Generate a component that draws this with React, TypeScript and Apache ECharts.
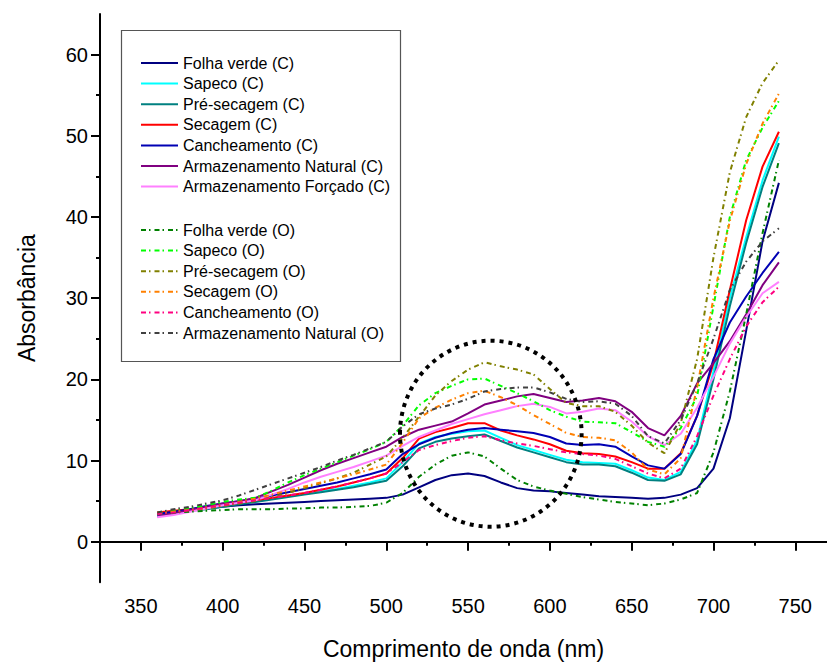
import React, { useEffect, useRef } from "react";
import * as echarts from "echarts";

const wavelengths = [360, 370, 380, 390, 400, 410, 420, 430, 440, 450, 460, 470, 480, 490, 500, 510, 520, 530, 540, 550, 560, 570, 580, 590, 600, 610, 620, 630, 640, 650, 660, 670, 680, 690, 700, 710, 720, 730, 740];

const folhaVerdeC = [3.3, 3.6, 3.9, 4.1, 4.3, 4.5, 4.6, 4.7, 4.8, 4.9, 5.0, 5.1, 5.2, 5.3, 5.4, 5.8, 6.7, 7.6, 8.2, 8.4, 8.1, 7.3, 6.6, 6.3, 6.2, 6.0, 5.8, 5.6, 5.5, 5.4, 5.3, 5.4, 5.8, 6.6, 9.0, 15.2, 26.0, 37.0, 44.2];
const sapecoC = [3.2, 3.5, 3.8, 4.1, 4.4, 4.7, 5.0, 5.3, 5.6, 5.9, 6.2, 6.5, 6.9, 7.3, 7.8, 9.8, 12.1, 12.9, 13.3, 13.6, 13.7, 12.8, 11.9, 11.3, 10.7, 10.1, 9.8, 9.7, 9.6, 8.8, 7.9, 7.6, 8.6, 12.5, 21.0, 30.0, 37.5, 44.5, 49.9];
const preSecagemC = [3.3, 3.5, 3.8, 4.0, 4.3, 4.6, 4.9, 5.2, 5.5, 5.8, 6.1, 6.4, 6.7, 7.1, 7.5, 9.3, 11.5, 12.3, 12.7, 13.0, 13.2, 12.4, 11.6, 11.0, 10.4, 9.8, 9.5, 9.5, 9.3, 8.5, 7.6, 7.5, 8.3, 12.0, 20.0, 29.0, 36.8, 43.7, 49.1];
const secagemC = [3.6, 3.8, 4.0, 4.2, 4.5, 4.8, 5.1, 5.4, 5.7, 6.0, 6.4, 6.8, 7.3, 7.8, 8.4, 10.3, 12.7, 13.5, 14.0, 14.6, 14.6, 13.7, 13.1, 12.6, 12.0, 11.2, 10.9, 10.8, 10.5, 9.8, 9.0, 9.0, 10.9, 15.5, 22.0, 31.0, 39.6, 46.2, 50.5];
const cancheamentoC = [3.4, 3.7, 4.0, 4.4, 4.7, 5.0, 5.3, 5.7, 6.1, 6.5, 6.9, 7.3, 7.8, 8.3, 8.9, 10.8, 12.0, 12.8, 13.4, 13.8, 14.0, 13.8, 13.6, 13.4, 12.9, 12.1, 11.9, 12.0, 11.7, 10.5, 9.4, 9.0, 10.8, 15.5, 22.5, 27.0, 30.2, 33.1, 35.7];
const armNaturalC = [3.1, 3.5, 3.9, 4.3, 4.7, 5.0, 5.4, 6.2, 7.0, 7.9, 8.8, 9.6, 10.3, 11.0, 11.7, 12.9, 13.8, 14.3, 14.8, 15.8, 16.9, 17.4, 17.9, 18.2, 17.7, 17.2, 17.4, 17.7, 17.3, 16.0, 14.0, 13.1, 15.5, 19.5, 22.0, 24.7, 28.0, 31.6, 34.4];
const armForcadoC = [3.0, 3.3, 3.7, 4.1, 4.5, 4.8, 5.1, 5.8, 6.5, 7.3, 8.0, 8.6, 9.2, 9.9, 10.6, 11.8, 12.9, 13.7, 14.5, 15.1, 15.7, 16.2, 16.7, 17.0, 16.6, 15.8, 16.0, 16.4, 16.2, 14.8, 13.0, 11.9, 13.3, 16.5, 20.3, 24.4, 27.7, 30.6, 32.0];

const folhaVerdeO = [3.4, 3.6, 3.7, 3.8, 3.9, 4.0, 4.0, 4.0, 4.1, 4.1, 4.2, 4.2, 4.3, 4.4, 4.8, 6.0, 8.0, 9.5, 10.6, 11.0, 10.5, 9.0, 7.6, 6.8, 6.3, 5.9, 5.5, 5.2, 4.9, 4.7, 4.5, 4.7, 5.2, 6.0, 11.0, 18.5, 28.0, 38.0, 47.0];
const sapecoO = [3.5, 3.8, 4.1, 4.5, 4.9, 5.2, 5.4, 6.3, 7.3, 8.2, 9.0, 9.8, 10.6, 11.4, 12.3, 14.3, 16.8, 18.3, 19.2, 20.0, 20.1, 19.2, 18.3, 17.3, 16.2, 15.4, 14.8, 14.7, 14.6, 13.5, 12.3, 11.7, 14.0, 17.9, 29.0, 40.0, 47.0, 51.0, 54.3];
const preSecagemO = [3.5, 3.7, 3.9, 4.1, 4.4, 4.7, 5.0, 5.5, 6.0, 6.6, 7.2, 7.8, 8.5, 9.5, 10.5, 12.8, 15.4, 18.0, 19.8, 21.2, 22.1, 21.6, 21.2, 20.6, 18.8, 17.1, 16.7, 16.7, 16.0, 14.3, 12.2, 10.9, 14.6, 22.5, 35.0, 45.5, 52.3, 56.5, 59.3];
const secagemO = [3.6, 3.7, 3.9, 4.2, 4.5, 4.9, 5.3, 5.8, 6.3, 6.8, 7.3, 7.8, 8.3, 8.9, 9.5, 12.2, 15.2, 16.5, 17.5, 18.3, 18.6, 17.8, 16.8, 15.6, 14.5, 13.4, 12.9, 12.8, 12.5, 11.0, 8.9, 8.3, 10.3, 19.0, 30.0, 39.5, 46.5, 51.5, 55.2];
const cancheamentoO = [3.4, 3.6, 3.9, 4.2, 4.5, 4.8, 5.1, 5.4, 5.7, 6.0, 6.4, 6.8, 7.3, 7.8, 8.4, 9.8, 11.3, 11.9, 12.4, 12.8, 13.0, 12.5, 12.1, 11.8, 11.4, 11.0, 10.8, 10.6, 10.2, 9.3, 8.4, 7.8, 9.0, 13.0, 18.0, 22.5, 26.5, 29.5, 31.4];
const armNaturalO = [3.6, 4.0, 4.3, 4.7, 5.1, 5.7, 6.4, 7.1, 7.8, 8.5, 9.2, 10.0, 10.7, 11.5, 12.3, 14.2, 15.7, 16.4, 16.9, 17.6, 18.5, 18.8, 19.0, 19.0, 18.4, 17.6, 17.2, 17.3, 17.0, 15.5, 13.0, 12.1, 15.0, 19.5, 25.0, 31.0, 34.5, 37.0, 38.6];

const xTickLabels = [350, 400, 450, 500, 550, 600, 650, 700, 750];
const xMinorTicks = [325, 375, 425, 475, 525, 575, 625, 675, 725];
const yTickLabels = [0, 10, 20, 30, 40, 50, 60];
const yMinorTicks = [5, 15, 25, 35, 45, 55];

const seriesC = [
  { name: "Folha verde (C)", values: folhaVerdeC, color: "#000080" },
  { name: "Sapeco (C)", values: sapecoC, color: "#00FFFF" },
  { name: "Pré-secagem (C)", values: preSecagemC, color: "#008080" },
  { name: "Secagem (C)", values: secagemC, color: "#FF0000" },
  { name: "Cancheamento (C)", values: cancheamentoC, color: "#0000B4" },
  { name: "Armazenamento Natural (C)", values: armNaturalC, color: "#800080" },
  { name: "Armazenamento Forçado (C)", values: armForcadoC, color: "#FF80FF" },
];
const seriesO = [
  { name: "Folha verde (O)", values: folhaVerdeO, color: "#008000" },
  { name: "Sapeco (O)", values: sapecoO, color: "#00FF00" },
  { name: "Pré-secagem (O)", values: preSecagemO, color: "#808000" },
  { name: "Secagem (O)", values: secagemO, color: "#FF8000" },
  { name: "Cancheamento (O)", values: cancheamentoO, color: "#FF0080" },
  { name: "Armazenamento Natural (O)", values: armNaturalO, color: "#404040" },
];

const FONT = "'Liberation Sans', Arial, sans-serif";

export default function App() {
  const ref = useRef<HTMLDivElement>(null);
  useEffect(() => {
    if (!ref.current) return;
    const chart = echarts.init(ref.current, null, { renderer: "svg" });
    const mk = (s: any, dashed: boolean) => ({
      name: s.name,
      type: "line",
      xAxisIndex: 0,
      yAxisIndex: 0,
      symbol: "none",
      data: wavelengths.map((w, i) => [w, s.values[i]]),
      lineStyle: {
        color: s.color,
        width: 2,
        type: dashed ? [5, 3, 1.5, 4] : "solid",
      },
      itemStyle: { color: s.color },
      z: dashed ? 3 : 2,
    });
    const axisCommon = {
      type: "value",
      splitLine: { show: false },
    };
    const legendCommon = {
      orient: "vertical",
      left: 135,
      padding: 5,
      itemWidth: 37,
      itemHeight: 14,
      itemGap: 4.6,
      selectedMode: false,
      itemStyle: { opacity: 0 },
      textStyle: { fontSize: 16, color: "#000", fontFamily: FONT, lineHeight: 16 },
    };
    chart.setOption({
      animation: false,
      textStyle: { fontFamily: FONT },
      grid: { left: 100, top: 14, right: 0, bottom: 82.7, containLabel: false, outerBoundsMode: "none" },
      xAxis: [
        {
          ...axisCommon,
          min: 325,
          max: 769.4,
          axisLine: { lineStyle: { color: "#000", width: 2 } },
          axisTick: { customValues: xTickLabels, length: 9, lineStyle: { color: "#000", width: 2 } },
          axisLabel: { customValues: xTickLabels, fontSize: 20, color: "#000", margin: 14, fontFamily: FONT },
          name: "Comprimento de onda (nm)",
          nameLocation: "middle",
          nameGap: 55,
          nameTextStyle: { fontSize: 23, color: "#000", fontFamily: FONT },
        },
        {
          ...axisCommon,
          min: 325,
          max: 769.4,
          position: "bottom",
          axisLine: { show: false },
          axisTick: { customValues: xMinorTicks, length: 4, lineStyle: { color: "#000", width: 2 } },
          axisLabel: { show: false },
        },
      ],
      yAxis: [
        {
          ...axisCommon,
          min: -5,
          max: 65,
          axisLine: { show: true, lineStyle: { color: "#000", width: 2 } },
          axisTick: { show: true, customValues: yTickLabels, length: 9, lineStyle: { color: "#000", width: 2 } },
          axisLabel: { customValues: yTickLabels, fontSize: 20, color: "#000", margin: 12, fontFamily: FONT },
          name: "Absorbância",
          nameLocation: "middle",
          nameGap: 62,
          nameTextStyle: { fontSize: 23, color: "#000", fontFamily: FONT },
        },
        {
          ...axisCommon,
          min: -5,
          max: 65,
          position: "left",
          axisLine: { show: false },
          axisTick: { show: true, customValues: yMinorTicks, length: 4, lineStyle: { color: "#000", width: 2 } },
          axisLabel: { show: false },
        },
      ],
      legend: [
        { ...legendCommon, data: seriesC.map((s) => s.name), top: 50 },
        { ...legendCommon, data: seriesO.map((s) => s.name), top: 217 },
      ],
      graphic: [
        {
          type: "rect",
          shape: { x: 121.5, y: 30.5, width: 279, height: 331 },
          style: { fill: "none", stroke: "#555", lineWidth: 1.2 },
          z: 50,
        },
        {
          type: "ellipse",
          shape: { cx: 490.8, cy: 433.7, rx: 90.8, ry: 93 },
          style: { fill: "none", stroke: "#000", lineWidth: 4, lineDash: [4, 5] },
          z: 100,
        },
      ],
      series: [...seriesC.map((s) => mk(s, false)), ...seriesO.map((s) => mk(s, true))],
    });
    return () => chart.dispose();
  }, []);
  return (
    <div
      ref={ref}
      style={{ position: "absolute", left: 0, top: 0, width: 827, height: 665, background: "#fff" }}
    />
  );
}
